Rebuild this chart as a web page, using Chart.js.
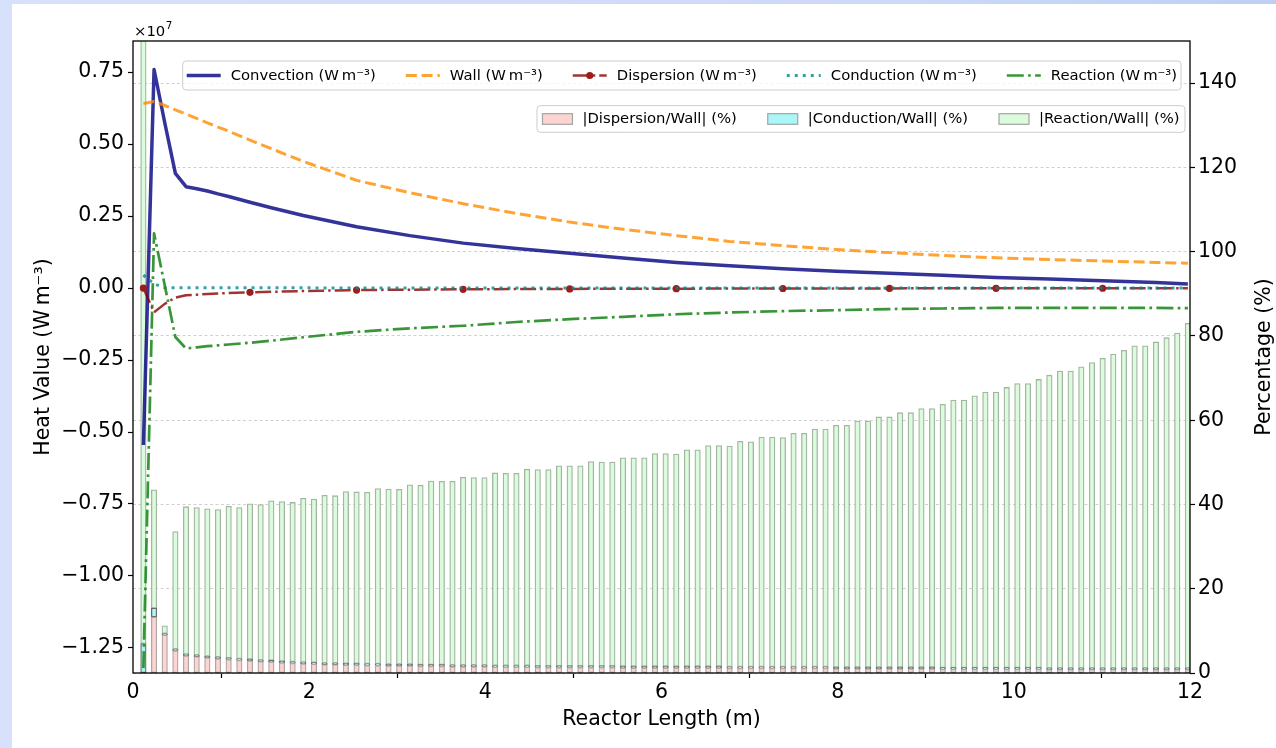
<!DOCTYPE html>
<html>
<head>
<meta charset="utf-8">
<title>Reactor heat balance</title>
<script src="https://cdn.jsdelivr.net/npm/chart.js@4.4.1/dist/chart.umd.min.js"></script>
<style>
  html, body { margin: 0; padding: 0; }
  body {
    width: 1276px; height: 748px; overflow: hidden; position: relative;
    background: linear-gradient(to right, #d7e1fb 0%, #ccd9f7 70%, #bfcff4 100%);
  }
  #frame { position: absolute; left: 12px; top: 4px; width: 1264px; height: 744px; background: #fff; }
  canvas { display: block; }
</style>
</head>
<body>
<div id="frame"><canvas id="heatChart" width="1264" height="744"></canvas></div>
<script>
// axial nodes along the reactor (m)
const nodeCount = 99;
const nodeStart = 0.118;
const nodeStep = 0.121;
const nodeX = Array.from({ length: nodeCount }, (_, i) => +(nodeStart + i * nodeStep).toFixed(3));

// heat terms in 1e7 W m^-3, sampled at these node numbers (1-based)
const lineNodes = [1, 2, 3, 4, 5, 6, 7, 8, 9, 11, 13, 16, 21, 26, 31, 36, 41, 46, 51, 56, 61, 66, 71, 76, 81, 86, 91, 96, 99];
const convection = [-0.545, 0.759, 0.575, 0.398, 0.352, 0.345, 0.337, 0.327, 0.318, 0.298, 0.279, 0.252, 0.213, 0.182, 0.156,
  0.137, 0.121, 0.104, 0.089, 0.077, 0.067, 0.058, 0.051, 0.044, 0.037, 0.031, 0.025, 0.019, 0.014];
const wall = [0.641, 0.648, 0.634, 0.619, 0.604, 0.589, 0.574, 0.559, 0.545, 0.514, 0.484, 0.440, 0.374, 0.331, 0.293,
  0.259, 0.229, 0.204, 0.182, 0.162, 0.147, 0.134, 0.123, 0.113, 0.105, 0.099, 0.094, 0.089, 0.086];
const dispersion = [0.0, -0.084, -0.055, -0.033, -0.025, -0.023, -0.021, -0.019, -0.017, -0.015, -0.013, -0.0105, -0.0071, -0.0056, -0.0044,
  -0.0036, -0.0030, -0.0025, -0.0022, -0.0018, -0.0016, -0.0013, -0.0012, -0.0010, -0.0009, -0.0008, -0.0008, -0.0007, -0.0007];
const conduction = [0.045, 0.014, 0.0012, 0.0009, 0.0009, 0.0008, 0.0008, 0.0008, 0.0007, 0.0007, 0.0007, 0.0006, 0.0005, 0.0005, 0.0004,
  0.0004, 0.0003, 0.0003, 0.0003, 0.0002, 0.0002, 0.0002, 0.0002, 0.0002, 0.0002, 0.0001, 0.0001, 0.0001, 0.0001];
const reaction = [-1.32, 0.19, 0.010, -0.170, -0.210, -0.206, -0.202, -0.199, -0.196, -0.190, -0.183, -0.171, -0.152, -0.140, -0.131,
  -0.118, -0.108, -0.100, -0.091, -0.085, -0.080, -0.077, -0.073, -0.071, -0.069, -0.069, -0.069, -0.069, -0.070];

// |term / wall| in percent, one value per node
const dispersionPct = [
  0.0, 13.3, 9.0, 5.3, 4.1, 3.9, 3.6, 3.4, 3.2, 3.0,
  2.9, 2.7, 2.6, 2.4, 2.3, 2.2, 2.1, 2.0, 2.0, 1.9,
  1.9, 1.8, 1.8, 1.7, 1.7, 1.7, 1.6, 1.6, 1.6, 1.5,
  1.5, 1.5, 1.5, 1.4, 1.4, 1.4, 1.4, 1.3, 1.3, 1.3,
  1.3, 1.3, 1.3, 1.3, 1.3, 1.2, 1.2, 1.2, 1.2, 1.2,
  1.2, 1.2, 1.2, 1.2, 1.2, 1.1, 1.1, 1.1, 1.1, 1.1,
  1.1, 1.1, 1.1, 1.1, 1.1, 1.0, 1.0, 1.0, 1.0, 1.0,
  1.0, 1.0, 1.0, 1.0, 1.0, 0.9, 0.9, 0.9, 0.9, 0.9,
  0.9, 0.9, 0.9, 0.9, 0.9, 0.8, 0.8, 0.8, 0.8, 0.8,
  0.8, 0.8, 0.8, 0.8, 0.8, 0.8, 0.8, 0.8, 0.8];
const conductionPct = [
  7.0, 2.1, 0.2, 0.15, 0.15, 0.15, 0.15, 0.15, 0.15, 0.15,
  0.15, 0.15, 0.15, 0.15, 0.15, 0.15, 0.15, 0.15, 0.15, 0.15,
  0.15, 0.15, 0.15, 0.15, 0.15, 0.15, 0.15, 0.15, 0.15, 0.15,
  0.15, 0.15, 0.15, 0.15, 0.15, 0.15, 0.15, 0.15, 0.15, 0.15,
  0.12, 0.12, 0.12, 0.12, 0.12, 0.12, 0.12, 0.12, 0.12, 0.12,
  0.12, 0.12, 0.12, 0.12, 0.12, 0.12, 0.12, 0.12, 0.12, 0.12,
  0.12, 0.12, 0.12, 0.12, 0.12, 0.12, 0.12, 0.12, 0.12, 0.12,
  0.1, 0.1, 0.1, 0.1, 0.1, 0.1, 0.1, 0.1, 0.1, 0.1,
  0.1, 0.1, 0.1, 0.1, 0.1, 0.1, 0.1, 0.1, 0.1, 0.1,
  0.1, 0.1, 0.1, 0.1, 0.1, 0.1, 0.1, 0.1, 0.1];
const reactionPct = [
  206, 28.1, 1.8, 27.9, 35.0, 35.0, 35.0, 35.0, 36.0, 35.9,
  36.9, 36.9, 37.9, 37.9, 37.8, 38.9, 38.8, 39.8, 39.7, 40.8,
  40.7, 40.7, 41.6, 41.6, 41.5, 42.6, 42.6, 43.6, 43.5, 43.6,
  44.6, 44.5, 44.5, 45.7, 45.6, 45.6, 46.6, 46.6, 46.6, 47.5,
  47.5, 47.5, 48.5, 48.4, 48.4, 49.5, 49.5, 49.5, 50.5, 50.5,
  50.4, 51.4, 51.4, 52.4, 52.4, 52.4, 53.5, 53.4, 54.5, 54.5,
  54.4, 55.4, 55.4, 56.4, 56.4, 57.4, 57.4, 58.4, 58.4, 59.4,
  59.4, 60.4, 60.4, 61.4, 61.4, 62.5, 63.5, 63.5, 64.5, 65.4,
  65.4, 66.5, 67.4, 67.4, 68.4, 69.5, 70.5, 70.5, 71.5, 72.5,
  73.5, 74.5, 75.4, 76.5, 76.5, 77.4, 78.4, 79.5, 81.8];

// axis limits and ticks
const heatMin = -1.337, heatMax = 0.858, heatStep = 0.25;
const pctMin = 0, pctMax = 150, pctStep = 20;
const lengthMin = 0, lengthMax = 12, lengthStep = 2;

const UNIT = '(W\u2009m\u207B\u00B3)';
const FONT = 'DejaVu Sans';
const tickFont = { family: FONT, size: 20.5 };
const legendFont = '14.8px "DejaVu Sans"';

Chart.defaults.font.family = FONT;
Chart.defaults.color = '#000';

const toPoints = (xs, ys) => ys.map((y, k) => ({ x: xs[k], y }));
const lineX = lineNodes.map(n => nodeX[n - 1]);

const heatLine = (label, values, color, width, dash, order, extra) => Object.assign({
  type: 'line', label, data: toPoints(lineX, values), yAxisID: 'y',
  borderColor: color, borderWidth: width, borderDash: dash,
  borderCapStyle: 'butt', borderJoinStyle: 'round',
  pointRadius: 0, tension: 0, fill: false, order, legendGroup: 'heat'
}, extra || {});

const ratioBars = (label, values, fill, edge, extra) => Object.assign({
  type: 'bar', label, data: toPoints(nodeX, values), yAxisID: 'y2',
  backgroundColor: fill, borderColor: edge, borderWidth: 1.3, borderSkipped: false,
  barThickness: 5.5, order: 10, legendGroup: 'ratio', legendEdge: '#a4a4a4'
}, extra || {});

const datasets = [
  heatLine('Convection ' + UNIT, convection, 'rgba(0,0,128,0.8)', 3.5, [], 5),
  heatLine('Wall ' + UNIT, wall, 'rgba(255,140,0,0.8)', 3, [11, 4.8], 4),
  heatLine('Dispersion ' + UNIT, dispersion, 'rgba(139,0,0,0.8)', 2.5, [16, 4, 2.5, 4], 3, {
    pointRadius: c => (lineNodes[c.dataIndex] - 1) % 10 === 0 ? 3.6 : 0,
    pointBackgroundColor: '#a01c1c', pointBorderColor: '#a01c1c', pointBorderWidth: 0,
    legendMarker: true
  }),
  heatLine('Conduction ' + UNIT, conduction, 'rgba(0,139,139,0.8)', 3, [3, 5], 2),
  heatLine('Reaction ' + UNIT, reaction, 'rgba(34,139,34,0.9)', 2.7, [17, 4.3, 2.7, 4.3], 1),
  ratioBars('|Dispersion/Wall| (%)', dispersionPct, '#fdd4d2', '#b0a6a6'),
  ratioBars('|Conduction/Wall| (%)', conductionPct, '#aaf7fa', '#6a6a6a', { minBarLength: 1.6 }),
  ratioBars('|Reaction/Wall| (%)', reactionPct, '#dcfadc', '#a2b6a2')
];

function roundedBox(ctx, x, y, w, h, r) {
  ctx.beginPath();
  ctx.moveTo(x + r, y);
  ctx.arcTo(x + w, y, x + w, y + h, r);
  ctx.arcTo(x + w, y + h, x, y + h, r);
  ctx.arcTo(x, y + h, x, y, r);
  ctx.arcTo(x, y, x + w, y, r);
  ctx.closePath();
}

function drawLegend(chart, group, o) {
  const ctx = chart.ctx;
  const items = chart.data.datasets.filter(d => d.legendGroup === group);
  ctx.font = legendFont;
  const widths = items.map(d => o.handle + o.textGap + ctx.measureText(d.label).width);
  const boxW = widths.reduce((a, b) => a + b, 0) + o.itemGap * (items.length - 1) + 2 * o.pad;
  const boxX = o.align === 'right' ? o.x - boxW : o.x;
  roundedBox(ctx, boxX, o.y, boxW, o.h, 3.5);
  ctx.fillStyle = 'rgba(255,255,255,0.8)';
  ctx.fill();
  ctx.strokeStyle = '#cccccc';
  ctx.lineWidth = 1;
  ctx.setLineDash([]);
  ctx.stroke();

  const cy = o.y + o.h / 2;
  let x = boxX + o.pad;
  items.forEach((d, k) => {
    ctx.save();
    if (d.type === 'line') {
      ctx.strokeStyle = d.borderColor;
      ctx.lineWidth = d.borderWidth;
      ctx.lineCap = 'butt';
      ctx.setLineDash(d.borderDash || []);
      ctx.beginPath();
      ctx.moveTo(x, cy);
      ctx.lineTo(x + o.handle, cy);
      ctx.stroke();
      if (d.legendMarker) {
        ctx.fillStyle = d.pointBackgroundColor;
        ctx.beginPath();
        ctx.arc(x + o.handle / 2, cy, 3.6, 0, Math.PI * 2);
        ctx.fill();
      }
    } else {
      ctx.fillStyle = d.backgroundColor;
      ctx.fillRect(x, cy - 5.3, o.handle, 10.6);
      ctx.strokeStyle = d.legendEdge;
      ctx.lineWidth = 1.2;
      ctx.strokeRect(x, cy - 5.3, o.handle, 10.6);
    }
    ctx.restore();
    ctx.fillStyle = '#000';
    ctx.font = legendFont;
    ctx.textAlign = 'left';
    ctx.textBaseline = 'middle';
    ctx.fillText(d.label, x + o.handle + o.textGap, cy + 0.5);
    x += widths[k] + o.itemGap;
  });
}

// frame around the plot, the 1e7 multiplier, right axis title and both legends
const framePlugin = {
  id: 'frameAndLegends',
  afterDatasetsDraw(chart) {
    const { ctx, chartArea: a } = chart;
    ctx.save();
    ctx.strokeStyle = '#000';
    ctx.lineWidth = 1.3;
    ctx.setLineDash([]);
    ctx.strokeRect(a.left, a.top, a.right - a.left, a.bottom - a.top);

    ctx.fillStyle = '#000';
    ctx.textAlign = 'left';
    ctx.textBaseline = 'alphabetic';
    ctx.font = legendFont;
    ctx.fillText('\u00D710', a.left + 1, a.top - 5);
    const w = ctx.measureText('\u00D710').width;
    ctx.font = '10.4px "DejaVu Sans"';
    ctx.fillText('7', a.left + 1.5 + w, a.top - 12);

    // right axis label reads bottom to top, like the left one
    ctx.save();
    ctx.translate(chart.width - 11, (a.top + a.bottom) / 2);
    ctx.rotate(-Math.PI / 2);
    ctx.font = '20.5px "DejaVu Sans"';
    ctx.textAlign = 'center';
    ctx.textBaseline = 'middle';
    ctx.fillText('Percentage (%)', 0, 0);
    ctx.restore();

    drawLegend(chart, 'heat', { x: 170.7, y: 57, h: 29, align: 'left', pad: 4, handle: 34, textGap: 10, itemGap: 30 });
    drawLegend(chart, 'ratio', { x: 1173, y: 101.7, h: 26.6, align: 'right', pad: 5.5, handle: 30, textGap: 10, itemGap: 31 });
    ctx.restore();
  }
};

const tickMarks = { drawOnChartArea: false, tickLength: 5, tickColor: '#000', tickWidth: 1.2 };

new Chart(document.getElementById('heatChart'), {
  type: 'bar',
  data: { datasets },
  options: {
    responsive: false,
    animation: false,
    layout: { padding: { top: 37, left: 0, right: 0, bottom: 0 } },
    plugins: { legend: { display: false }, tooltip: { enabled: false } },
    scales: {
      x: {
        type: 'linear', position: 'bottom', min: lengthMin, max: lengthMax, offset: false, stacked: true,
        ticks: { stepSize: lengthStep, padding: 2, font: tickFont, color: '#000', maxRotation: 0, callback: v => String(v) },
        grid: tickMarks,
        border: { display: false },
        title: { display: true, text: 'Reactor Length (m)', font: tickFont, color: '#000', padding: { top: 0, bottom: 16 } },
        afterFit: s => { s.height = 75; }
      },
      y: {
        type: 'linear', position: 'left', min: heatMin, max: heatMax,
        ticks: {
          stepSize: heatStep, includeBounds: false, padding: 4, font: tickFont, color: '#000',
          callback: v => {
            const r = Math.round(v * 100) / 100;
            return (r < 0 ? '\u2212' : '') + Math.abs(r).toFixed(2);
          }
        },
        grid: tickMarks,
        border: { display: false },
        title: { display: true, text: 'Heat Value ' + UNIT, font: tickFont, color: '#000', padding: { top: 19, bottom: 0 } },
        afterFit: s => { s.width = 121; }
      },
      y2: {
        type: 'linear', position: 'right', min: pctMin, max: pctMax, stacked: true,
        ticks: { stepSize: pctStep, includeBounds: false, padding: 3, font: tickFont, color: '#000', callback: v => String(Math.round(v)) },
        grid: { drawOnChartArea: true, color: '#c4c4c4', lineWidth: 0.8, tickLength: 5, tickColor: '#000', tickWidth: 1.2 },
        border: { display: false, dash: [3, 2.5] },
        title: { display: false },
        afterFit: s => { s.width = 86; }
      }
    }
  },
  plugins: [framePlugin]
});
</script>
</body>
</html>
